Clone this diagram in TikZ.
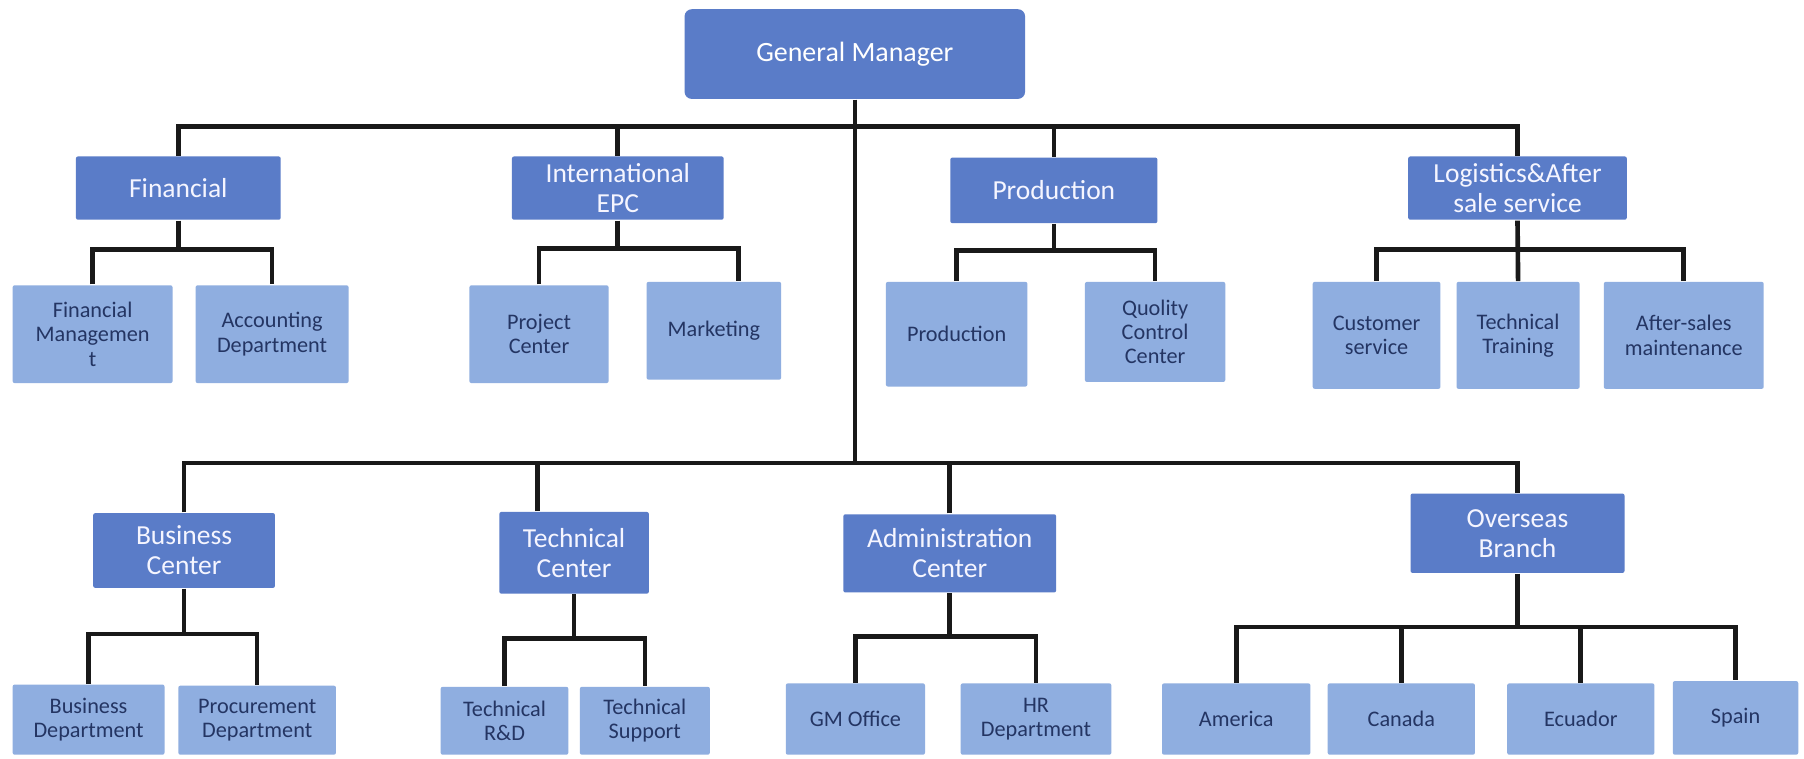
\documentclass[tikz,border=0pt]{standalone}
\usepackage{fontspec}
\setmainfont{Carlito}
\definecolor{darkbox}{HTML}{5A7CC8}
\definecolor{lightbox}{HTML}{8FAEE0}
\definecolor{navytext}{HTML}{243563}
\tikzset{
  wh/.style 2 args={minimum width=#1*0.01cm, minimum height=#2*0.01cm},
  base/.style={draw=none, inner sep=0pt, align=center, anchor=center},
  topbox/.style={base, fill=darkbox, rounded corners=1.8pt, text=white,
    font=\fontsize{6.9pt}{7.6pt}\selectfont},
  lvlone/.style={base, fill=darkbox, rounded corners=0.5pt, text=white!96!blue,
    font=\fontsize{6.8pt}{7.4pt}\selectfont},
  lvltwo/.style={base, fill=lightbox, rounded corners=0.5pt, text=navytext,
    font=\fontsize{5.5pt}{6.0pt}\selectfont},
  conn/.style={draw=black!90, line width=1.15pt, line join=miter}
}
\begin{document}
\begin{tikzpicture}[x=0.01cm, y=-0.01cm]
\fill[white] (0,0) rectangle (1568,659);
\useasboundingbox (0,0) rectangle (1568,659);

% General manager
\node[topbox, wh={296}{78}] (gm) at (743,47) {General Manager};

% upper level-one
\node[lvlone, wh={178}{55}] (fin) at (155,163.5) {Financial};
\node[lvlone, wh={184}{55}] (epc) at (537,163.5) {International\\EPC};
\node[lvlone, wh={180}{57}] (prod) at (916,165.5) {Production};
\node[lvlone, wh={190}{55}] (logi) at (1319,163.5) {Logistics\&After\\sale service};

% upper level-two
\node[lvltwo, wh={139}{85}] (finm) at (80.5,290.5) {Financial\\Managemen\\t};
\node[lvltwo, wh={133}{85}] (acc) at (236.5,290.5) {Accounting\\Department};
\node[lvltwo, wh={121}{85}] (proj) at (468.5,290.5) {Project\\Center};
\node[lvltwo, wh={117}{85}] (mkt) at (620.5,287.5) {Marketing};
\node[lvltwo, wh={123}{91}] (prodc) at (831.5,290.5) {Production};
\node[lvltwo, wh={122}{87}] (qcc) at (1004,288.5) {Quolity\\Control\\Center};
\node[lvltwo, wh={111}{93}] (cust) at (1196.5,291.5) {Customer\\service};
\node[lvltwo, wh={107}{93}] (ttr) at (1319.5,291.5) {Technical\\Training};
\node[lvltwo, wh={139}{93}] (asm) at (1463.5,291.5) {After-sales\\maintenance};

% lower level-one
\node[lvlone, wh={158}{65}] (bc) at (160,478.5) {Business\\Center};
\node[lvlone, wh={130}{71}] (tc) at (499,480.5) {Technical\\Center};
\node[lvlone, wh={185}{68}] (ac) at (825.5,481) {Administration\\Center};
\node[lvlone, wh={186}{69}] (ob) at (1319,463.5) {Overseas\\Branch};

% lower level-two
\node[lvltwo, wh={132}{61}] (bd) at (77,625.5) {Business\\Department};
\node[lvltwo, wh={137}{60}] (pd) at (223.5,626) {Procurement\\Department};
\node[lvltwo, wh={111}{59}] (trd) at (438.5,626.5) {Technical\\R\&D};
\node[lvltwo, wh={113}{59}] (ts) at (560.5,626.5) {Technical\\Support};
\node[lvltwo, wh={121}{62}] (gmo) at (743.5,625) {GM Office};
\node[lvltwo, wh={131}{62}] (hr) at (900.5,625) {HR\\Department};
\node[lvltwo, wh={129}{62}] (am) at (1074.5,625) {America};
\node[lvltwo, wh={128}{62}] (ca) at (1218,625) {Canada};
\node[lvltwo, wh={128}{62}] (ec) at (1374,625) {Ecuador};
\node[lvltwo, wh={109}{64}] (sp) at (1508.5,624) {Spain};

% bus coordinates
\coordinate (tb) at (0,110);
\coordinate (bb) at (0,402.5);
\coordinate (fb) at (0,217);
\coordinate (eb) at (0,216);
\coordinate (pb) at (0,218);
\coordinate (lb) at (0,217);
\coordinate (bsb) at (0,551);
\coordinate (tsb) at (0,555);
\coordinate (asb) at (0,553);
\coordinate (osb) at (0,545);
\coordinate (mkd) at (642,0);
\coordinate (tcd) at (467,0);

% trunk
\draw[conn] (gm.south) -- (gm.south |- bb);
\draw[conn] (fin.north) -- (fin.north |- tb) -- (logi.north |- tb) -- (logi.north);
\draw[conn] (epc.north) -- (epc.north |- tb);
\draw[conn] (prod.north) -- (prod.north |- tb);
\draw[conn] (bc.north) -- (bc.north |- bb) -- (ob.north |- bb) -- (ob.north);
\draw[conn] (tcd |- tc.north) -- (tcd |- bb);
\draw[conn] (ac.north) -- (ac.north |- bb);

% financial
\draw[conn] (fin.south) -- (fin.south |- fb);
\draw[conn] (finm.north) -- (finm.north |- fb) -- (acc.north |- fb) -- (acc.north);
% EPC
\draw[conn] (epc.south) -- (epc.south |- eb);
\draw[conn] (proj.north) -- (proj.north |- eb) -- (mkd |- eb) -- (mkd |- mkt.north);
% production
\draw[conn] (prod.south) -- (prod.south |- pb);
\draw[conn] (prodc.north) -- (prodc.north |- pb) -- (qcc.north |- pb) -- (qcc.north);
% logistics
\draw[conn] (logi.south) -- (ttr.north);
\draw[conn] (cust.north) -- (cust.north |- lb) -- (asm.north |- lb) -- (asm.north);
% business
\draw[conn] (bc.south) -- (bc.south |- bsb);
\draw[conn] (bd.north) -- (bd.north |- bsb) -- (pd.north |- bsb) -- (pd.north);
% technical
\draw[conn] (tc.south) -- (tc.south |- tsb);
\draw[conn] (trd.north) -- (trd.north |- tsb) -- (ts.north |- tsb) -- (ts.north);
% administration
\draw[conn] (ac.south) -- (ac.south |- asb);
\draw[conn] (gmo.north) -- (gmo.north |- asb) -- (hr.north |- asb) -- (hr.north);
% overseas
\draw[conn] (ob.south) -- (ob.south |- osb);
\draw[conn] (am.north) -- (am.north |- osb) -- (sp.north |- osb) -- (sp.north);
\draw[conn] (ca.north) -- (ca.north |- osb);
\draw[conn] (ec.north) -- (ec.north |- osb);
\end{tikzpicture}
\end{document}
